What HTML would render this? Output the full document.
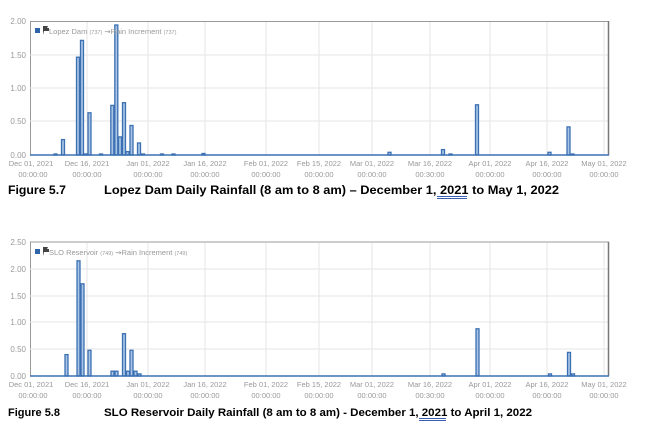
<!DOCTYPE html>
<html><head><style>body{margin:0;background:#fff}svg{display:block}</style></head><body>
<svg width="655" height="429" xmlns="http://www.w3.org/2000/svg" font-family="Liberation Sans, sans-serif">
<!-- Chart 1 -->
<g>
<rect x="30.5" y="21.5" width="578" height="133.5" fill="#fff" stroke="#999"/>
<g stroke="#e6e6e6">
<line x1="30" x2="609" y1="55" y2="55"/><line x1="30" x2="609" y1="88" y2="88"/><line x1="30" x2="609" y1="121" y2="121"/>
<line x1="87" x2="87" y1="22" y2="155"/><line x1="148" x2="148" y1="22" y2="155"/><line x1="205" x2="205" y1="22" y2="155"/><line x1="266" x2="266" y1="22" y2="155"/><line x1="319" x2="319" y1="22" y2="155"/><line x1="372" x2="372" y1="22" y2="155"/><line x1="430" x2="430" y1="22" y2="155"/><line x1="490" x2="490" y1="22" y2="155"/><line x1="547" x2="547" y1="22" y2="155"/><line x1="604" x2="604" y1="22" y2="155"/>
</g>
<line x1="608.5" x2="608.5" y1="21" y2="155" stroke="#777" stroke-width="1.5"/>
<g fill="#a9c4e4" stroke="#3b70b3" stroke-width="1.3">
<rect x="54" y="154" width="3" height="1"/>
<rect x="61.5" y="139.6" width="3" height="15.4"/>
<rect x="76.5" y="57.2" width="3" height="97.8"/>
<rect x="80.5" y="40.4" width="3" height="114.6"/>
<rect x="84" y="154" width="3" height="1"/>
<rect x="88" y="112.8" width="3" height="42.2"/>
<rect x="99.5" y="154" width="3" height="1"/>
<rect x="110.8" y="105.4" width="3" height="49.6"/>
<rect x="114.8" y="25" width="3" height="130"/>
<rect x="118.5" y="136.9" width="3" height="18.1"/>
<rect x="122.5" y="102.7" width="3" height="52.3"/>
<rect x="126" y="151.6" width="3" height="3.4"/>
<rect x="130" y="125.5" width="3" height="29.5"/>
<rect x="137.5" y="143" width="3" height="12"/>
<rect x="141.5" y="154" width="3" height="1"/>
<rect x="160.5" y="154" width="3" height="1"/>
<rect x="172" y="154" width="3" height="1"/>
<rect x="202" y="153.5" width="3" height="1.5"/>
<rect x="388" y="152.3" width="3" height="2.7"/>
<rect x="441.5" y="149.6" width="3" height="5.4"/>
<rect x="449" y="154" width="3" height="1"/>
<rect x="475.5" y="104.8" width="3" height="50.2"/>
<rect x="548" y="152.3" width="3" height="2.7"/>
<rect x="567" y="126.9" width="3" height="28.1"/>
<rect x="571" y="154" width="3" height="1"/>
</g>
<line x1="30" x2="609" y1="155" y2="155" stroke="#3b70b3" stroke-width="1.5"/>
<g font-size="8" fill="#999" text-anchor="end">
<text x="26" y="24">2.00</text><text x="26" y="58">1.50</text><text x="26" y="91">1.00</text><text x="26" y="124">0.50</text><text x="26" y="158">0.00</text>
</g>
<g font-size="7.5" fill="#999" text-anchor="middle">
<text x="31" y="166">Dec 01, 2021</text><text x="87" y="166">Dec 16, 2021</text><text x="148" y="166">Jan 01, 2022</text><text x="205" y="166">Jan 16, 2022</text><text x="266" y="166">Feb 01, 2022</text><text x="319" y="166">Feb 15, 2022</text><text x="372" y="166">Mar 01, 2022</text><text x="430" y="166">Mar 16, 2022</text><text x="490" y="166">Apr 01, 2022</text><text x="547" y="166">Apr 16, 2022</text><text x="604" y="166">May 01, 2022</text>
<text x="33" y="177">00:00:00</text><text x="87" y="177">00:00:00</text><text x="148" y="177">00:00:00</text><text x="205" y="177">00:00:00</text><text x="266" y="177">00:00:00</text><text x="319" y="177">00:00:00</text><text x="372" y="177">00:00:00</text><text x="430" y="177">00:30:00</text><text x="490" y="177">00:00:00</text><text x="547" y="177">00:00:00</text><text x="604" y="177">00:00:00</text>
</g>
<rect x="35" y="28" width="5" height="5" fill="#2d64aa"/>
<path d="M43 35V26h5l-1 2h2v3h-5" fill="#444"/>
<text x="49" y="34" font-size="7.5" fill="#999">Lopez Dam <tspan font-size="5.5">(737)</tspan> ⇝Rain Increment <tspan font-size="5.5">(737)</tspan></text>
<text x="8" y="194" font-size="12" font-weight="bold" fill="#000" textLength="58" lengthAdjust="spacingAndGlyphs">Figure 5.7</text>
<text x="104" y="194" font-size="12" font-weight="bold" fill="#000" textLength="455" lengthAdjust="spacingAndGlyphs">Lopez Dam Daily Rainfall (8 am to 8 am) – December 1, 2021 to May 1, 2022</text>
<line x1="437" x2="467" y1="196.5" y2="196.5" stroke="#3b5fb0"/><line x1="437" x2="467" y1="198.5" y2="198.5" stroke="#3b5fb0"/>
</g>
<!-- Chart 2 -->
<g>
<rect x="30.5" y="242" width="578" height="134" fill="#fff" stroke="#999"/>
<g stroke="#e6e6e6">
<line x1="30" x2="609" y1="269" y2="269"/><line x1="30" x2="609" y1="296" y2="296"/><line x1="30" x2="609" y1="322" y2="322"/><line x1="30" x2="609" y1="349" y2="349"/>
<line x1="87" x2="87" y1="243" y2="376"/><line x1="148" x2="148" y1="243" y2="376"/><line x1="205" x2="205" y1="243" y2="376"/><line x1="266" x2="266" y1="243" y2="376"/><line x1="319" x2="319" y1="243" y2="376"/><line x1="372" x2="372" y1="243" y2="376"/><line x1="430" x2="430" y1="243" y2="376"/><line x1="490" x2="490" y1="243" y2="376"/><line x1="547" x2="547" y1="243" y2="376"/><line x1="604" x2="604" y1="243" y2="376"/>
</g>
<line x1="608.5" x2="608.5" y1="242" y2="376" stroke="#777" stroke-width="1.5"/>
<g fill="#a9c4e4" stroke="#3b70b3" stroke-width="1.3">
<rect x="65" y="354.6" width="3" height="21.4"/>
<rect x="77" y="260.8" width="3" height="115.2"/>
<rect x="81" y="283.8" width="3" height="92.2"/>
<rect x="88" y="350.3" width="3" height="25.7"/>
<rect x="111" y="371.2" width="3" height="4.8"/>
<rect x="115" y="371.2" width="3" height="4.8"/>
<rect x="122.5" y="333.7" width="3" height="42.3"/>
<rect x="126.5" y="371.2" width="3" height="4.8"/>
<rect x="130" y="350.3" width="3" height="25.7"/>
<rect x="134" y="371.2" width="3" height="4.8"/>
<rect x="138" y="373.9" width="3" height="2.1"/>
<rect x="442" y="373.9" width="3" height="2.1"/>
<rect x="476" y="328.8" width="3" height="47.2"/>
<rect x="548.5" y="373.9" width="3" height="2.1"/>
<rect x="567.5" y="352.4" width="3" height="23.6"/>
<rect x="571.5" y="373.9" width="3" height="2.1"/>
</g>
<line x1="30" x2="609" y1="376" y2="376" stroke="#3b70b3" stroke-width="1.5"/>
<g font-size="8" fill="#999" text-anchor="end">
<text x="26" y="245">2.50</text><text x="26" y="272">2.00</text><text x="26" y="299">1.50</text><text x="26" y="325">1.00</text><text x="26" y="352">0.50</text><text x="26" y="379">0.00</text>
</g>
<g font-size="7.5" fill="#999" text-anchor="middle">
<text x="31" y="387">Dec 01, 2021</text><text x="87" y="387">Dec 16, 2021</text><text x="148" y="387">Jan 01, 2022</text><text x="205" y="387">Jan 16, 2022</text><text x="266" y="387">Feb 01, 2022</text><text x="319" y="387">Feb 15, 2022</text><text x="372" y="387">Mar 01, 2022</text><text x="430" y="387">Mar 16, 2022</text><text x="490" y="387">Apr 01, 2022</text><text x="547" y="387">Apr 16, 2022</text><text x="604" y="387">May 01, 2022</text>
<text x="33" y="398">00:00:00</text><text x="87" y="398">00:00:00</text><text x="148" y="398">00:00:00</text><text x="205" y="398">00:00:00</text><text x="266" y="398">00:00:00</text><text x="319" y="398">00:00:00</text><text x="372" y="398">00:00:00</text><text x="430" y="398">00:30:00</text><text x="490" y="398">00:00:00</text><text x="547" y="398">00:00:00</text><text x="604" y="398">00:00:00</text>
</g>
<rect x="35" y="249" width="5" height="5" fill="#2d64aa"/>
<path d="M43 256V247h5l-1 2h2v3h-5" fill="#444"/>
<text x="49" y="255" font-size="7.5" fill="#999">SLO Reservoir <tspan font-size="5.5">(749)</tspan> ⇝Rain Increment <tspan font-size="5.5">(749)</tspan></text>
<text x="8" y="416" font-size="11" font-weight="bold" fill="#000" textLength="52" lengthAdjust="spacingAndGlyphs">Figure 5.8</text>
<text x="104" y="416" font-size="11" font-weight="bold" fill="#000" textLength="428" lengthAdjust="spacingAndGlyphs">SLO Reservoir Daily Rainfall (8 am to 8 am) - December 1, 2021 to April 1, 2022</text>
<line x1="419" x2="446" y1="418.5" y2="418.5" stroke="#3b5fb0"/><line x1="419" x2="446" y1="420.5" y2="420.5" stroke="#3b5fb0"/>
</g>
</svg>
</body></html>
